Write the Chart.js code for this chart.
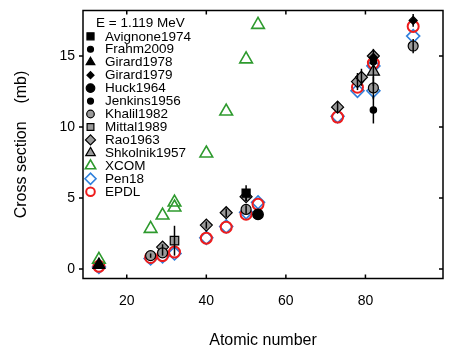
<!DOCTYPE html>
<html>
<head>
<meta charset="utf-8">
<script src="https://cdn.jsdelivr.net/npm/chart.js@4.4.0/dist/chart.umd.min.js"></script>
<style>
  body { margin: 0; background: #fff; }
  canvas { display: block; }
</style>
</head>
<body>
<canvas id="xsChart" width="463" height="355"></canvas>
<script>
// cross section vs atomic number at E = 1.119 MeV
const legendTitle = 'E = 1.119 MeV';
const xTicks = [20, 40, 60, 80];
const yTicks = [0, 5, 10, 15];

// measurements (Z, mb, +/- error)
const avignoneZ = [50];            const avignoneCS = [5.35];          const avignoneErr = [0.55];
const frahmZ = [82];               const frahmCS = [14.6];             const frahmErr = [0];
const girard78Z = [13];            const girard78CS = [0.3];           const girard78Err = [0];
const girard79Z = [82, 92];        const girard79CS = [14.9, 17.5];    const girard79Err = [0, 0.45];
const huckZ = [53];                const huckCS = [3.85];              const huckErr = [0.1];
const jenkinsZ = [82];             const jenkinsCS = [11.2];           const jenkinsErr = [0.95];
const khalilZ = [26, 29, 50, 82, 92];
const khalilCS = [0.95, 1.15, 4.2, 12.75, 15.7];
const khalilErr = [0.15, 0.2, 0.3, 0.8, 0.5];
const mittalZ = [32];              const mittalCS = [2.0];             const mittalErr = [1.05];
const raoZ = [29, 40, 45, 50, 73, 78, 79, 82];
const raoCS = [1.55, 3.1, 3.97, 5.1, 11.4, 13.2, 13.5, 15.0];
const raoErr = [0.2, 0.25, 0.3, 0.3, 0.4, 0.6, 0.6, 0.5];
const shkolnikZ = [82];            const shkolnikCS = [13.9];          const shkolnikErr = [1.0];

// calculations
const xcomZ = [13, 26, 29, 32, 32, 40, 45, 50, 53];
const xcomCS = [0.67, 2.84, 3.78, 4.35, 4.7, 8.15, 11.1, 14.77, 17.2];
const pen18Z = [13, 26, 29, 32, 40, 45, 50, 53, 73, 78, 82, 82, 92];
const pen18CS = [0.15, 0.75, 0.9, 1.1, 2.2, 3.0, 4.0, 4.7, 10.75, 12.55, 14.3, 12.55, 16.4];
const epdlZ = [13, 26, 29, 32, 40, 45, 50, 53, 73, 78, 82, 92];
const epdlCS = [0.2, 0.82, 0.95, 1.2, 2.18, 2.95, 3.86, 4.56, 10.7, 12.8, 14.5, 17.08];

const pts = (zs, vs) => zs.map((z, i) => ({x: z, y: vs[i]}));
const FONT = '"Liberation Sans", Arial, Helvetica, sans-serif';
const GRAY = '#9a9a9a';
const GREEN = '#2e9a2e';
const BLUE = '#2f80dc';
const RED = '#ee1c1c';

function exp(label, zs, vs, errs, style, fill, r, lr, order) {
    return {
        label: label,
        data: pts(zs, vs),
        err: errs,
        pointStyle: style,
        pointRadius: r,
        legendRadius: lr,
        backgroundColor: fill,
        borderColor: '#000',
        borderWidth: 1.2,
        order: order
    };
}

function calc(label, zs, vs, style, color, r, lr, lw, order) {
    return {
        label: label,
        data: pts(zs, vs),
        pointStyle: style,
        pointRadius: r,
        legendRadius: lr,
        backgroundColor: 'rgba(0,0,0,0)',
        borderColor: color,
        borderWidth: lw,
        order: order
    };
}

const datasets = [
    exp('Avignone1974', avignoneZ, avignoneCS, avignoneErr, 'rect', '#000', 5.7, 5, 0),
    exp('Frahm2009', frahmZ, frahmCS, frahmErr, 'circle', '#000', 3.2, 3, 0),
    exp('Girard1978', girard78Z, girard78CS, girard78Err, 'triangle', '#000', 7, 5, 0),
    exp('Girard1979', girard79Z, girard79CS, girard79Err, 'rectRot', '#000', 4, 3.5, 0),
    exp('Huck1964', huckZ, huckCS, huckErr, 'circle', '#000', 5.3, 4.3, 0),
    exp('Jenkins1956', jenkinsZ, jenkinsCS, jenkinsErr, 'circle', '#000', 3.2, 3, 0),
    exp('Khalil1982', khalilZ, khalilCS, khalilErr, 'circle', GRAY, 5, 3.8, 0),
    exp('Mittal1989', mittalZ, mittalCS, mittalErr, 'rect', GRAY, 6, 4.8, 0),
    exp('Rao1963', raoZ, raoCS, raoErr, 'rectRot', GRAY, 6, 5, 0),
    exp('Shkolnik1957', shkolnikZ, shkolnikCS, shkolnikErr, 'triangle', GRAY, 7, 5.5, 0),
    calc('XCOM', xcomZ, xcomCS, 'triangle', GREEN, 7.3, 6, 1.6, 3),
    calc('Pen18', pen18Z, pen18CS, 'rectRot', BLUE, 6.5, 5.5, 1.6, 5),
    calc('EPDL', epdlZ, epdlCS, 'circle', RED, 5.5, 4.3, 2, 4)
];

// vertical error bars
const errorBars = {
    id: 'errorBars',
    afterDatasetsDraw(chart) {
        const {ctx, scales: {x, y}} = chart;
        ctx.save();
        ctx.strokeStyle = '#000';
        ctx.lineWidth = 1.5;
        chart.data.datasets.forEach(ds => {
            if (!ds.err) return;
            ds.data.forEach((p, i) => {
                const e = ds.err[i];
                if (!e) return;
                const px = x.getPixelForValue(p.x);
                ctx.beginPath();
                ctx.moveTo(px, y.getPixelForValue(p.y - e));
                ctx.lineTo(px, y.getPixelForValue(p.y + e));
                ctx.stroke();
            });
        });
        ctx.restore();
    }
};

// box around plot + small ticks on all four sides
const frameTicks = {
    id: 'frameTicks',
    afterDraw(chart) {
        const {ctx, chartArea: a, scales: {x, y}} = chart;
        ctx.save();
        ctx.strokeStyle = '#000';
        ctx.lineWidth = 1.5;
        ctx.strokeRect(a.left, a.top, a.right - a.left, a.bottom - a.top);
        ctx.beginPath();
        x.ticks.forEach(t => {
            const px = x.getPixelForValue(t.value);
            ctx.moveTo(px, a.bottom); ctx.lineTo(px, a.bottom - 4);
            ctx.moveTo(px, a.top); ctx.lineTo(px, a.top + 4);
        });
        y.ticks.forEach(t => {
            const py = y.getPixelForValue(t.value);
            ctx.moveTo(a.left, py); ctx.lineTo(a.left - 4, py);
            ctx.moveTo(a.right, py); ctx.lineTo(a.right - 4, py);
        });
        ctx.stroke();
        ctx.restore();
    }
};

// legend drawn inside the plot, top left
const insetLegend = {
    id: 'insetLegend',
    afterDraw(chart) {
        const {ctx, chartArea: a} = chart;
        ctx.save();
        ctx.font = '13.5px ' + FONT;
        ctx.textBaseline = 'middle';
        ctx.fillStyle = '#000';
        ctx.fillText(legendTitle, a.left + 13, a.top + 12.5);
        chart.data.datasets.forEach((ds, i) => {
            const yy = a.top + 25.8 + i * 12.95;
            ctx.fillStyle = ds.backgroundColor;
            ctx.strokeStyle = ds.borderColor;
            ctx.lineWidth = ds.borderWidth;
            Chart.helpers.drawPoint(ctx, {
                pointStyle: ds.pointStyle,
                radius: ds.legendRadius,
                rotation: 0,
                borderWidth: ds.borderWidth
            }, a.left + 7.5, yy);
            ctx.fillStyle = '#000';
            ctx.fillText(ds.label, a.left + 22, yy + 0.5);
        });
        ctx.restore();
    }
};

document.addEventListener('DOMContentLoaded', function() {
    const ctx = document.getElementById('xsChart').getContext('2d');
    new Chart(ctx, {
        type: 'scatter',
        data: { datasets: datasets },
        options: {
            responsive: false,
            animation: false,
            devicePixelRatio: 1,
            layout: { padding: { top: 10.5, right: 20, left: 0, bottom: 0 } },
            plugins: {
                legend: { display: false },
                tooltip: { enabled: false }
            },
            scales: {
                x: {
                    type: 'linear',
                    min: 9,
                    max: 99.5,
                    afterFit: s => { s.height = 76.5; s.paddingLeft = 0; s.paddingRight = 0; },
                    afterBuildTicks: s => { s.ticks = xTicks.map(v => ({value: v})); },
                    grid: { display: false, drawTicks: false },
                    border: { display: false },
                    ticks: { color: '#000', font: { family: FONT, size: 14 }, padding: 14 },
                    title: {
                        display: true,
                        text: 'Atomic number',
                        color: '#000',
                        font: { family: FONT, size: 16 },
                        padding: { top: 0, bottom: 5 }
                    }
                },
                y: {
                    type: 'linear',
                    min: -0.66,
                    max: 18.2,
                    afterFit: s => { s.width = 83; s.paddingTop = 0; s.paddingBottom = 0; },
                    afterBuildTicks: s => { s.ticks = yTicks.map(v => ({value: v})); },
                    grid: { display: false, drawTicks: false },
                    border: { display: false },
                    ticks: { color: '#000', font: { family: FONT, size: 14 }, padding: 8 },
                    title: {
                        display: true,
                        text: 'Cross section    (mb)',
                        color: '#000',
                        font: { family: FONT, size: 16 },
                        padding: { top: 12, bottom: 0 }
                    }
                }
            }
        },
        plugins: [errorBars, frameTicks, insetLegend]
    });
});
</script>
</body>
</html>
